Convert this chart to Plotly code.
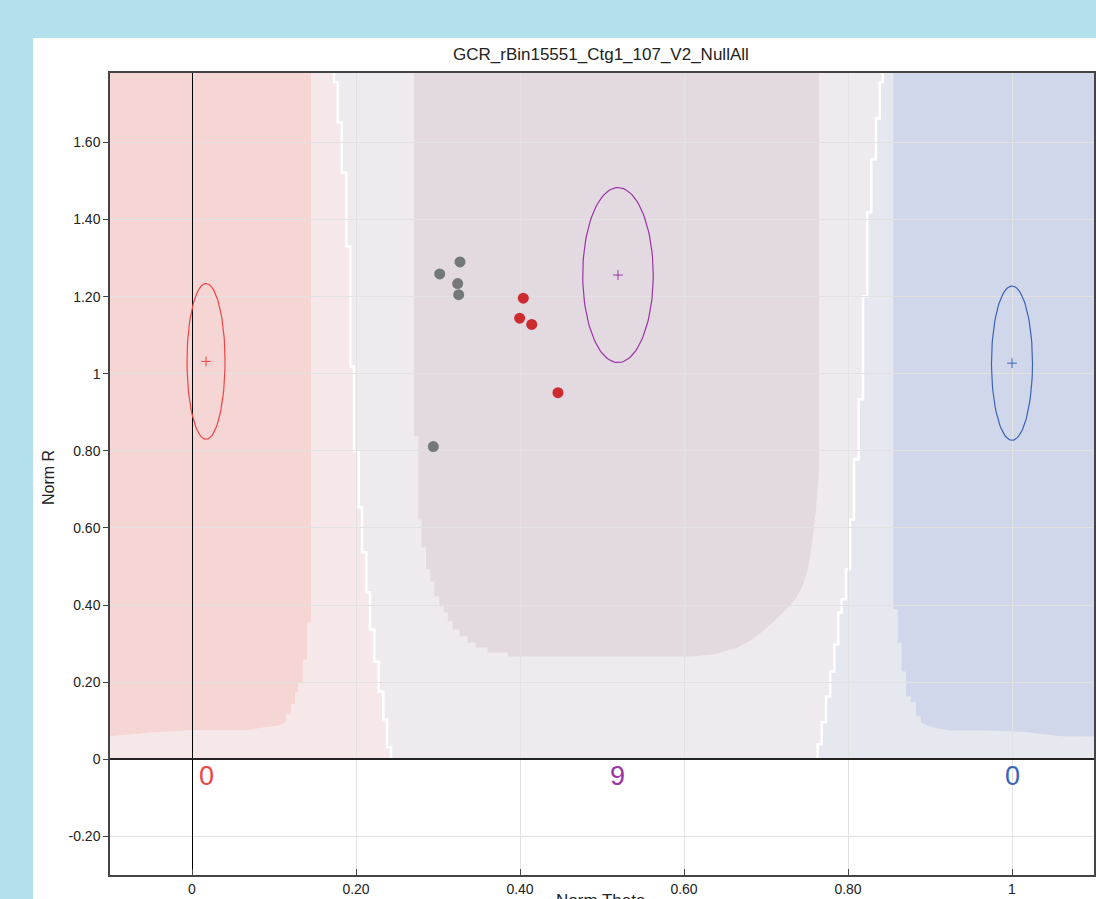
import numpy as np
import plotly.graph_objects as go

# ---- sample intensities (Norm Theta, Norm R) ----
gray_theta = [0.3268, 0.3021, 0.3240, 0.3252, 0.2943]
gray_r = [1.290, 1.259, 1.234, 1.205, 0.811]
red_theta = [0.4040, 0.3996, 0.4143, 0.4463]
red_r = [1.196, 1.144, 1.128, 0.951]

# ---- genotype clusters (AA, AB, BB) ----
cluster_theta = [0.0171, 0.5195, 1.0]
cluster_r = [1.032, 1.256, 1.0275]
cluster_sd_theta = [0.0232, 0.043, 0.025]
cluster_sd_r = [0.202, 0.227, 0.200]
cluster_counts = [0, 9, 0]
cluster_colors = ["#f04545", "#9b35a5", "#3b63b8"]

# ---- axis ticks ----
x_ticks = [0, 0.2, 0.4, 0.6, 0.8, 1.0]
x_ticklabels = ["0", "0.20", "0.40", "0.60", "0.80", "1"]
y_ticks = [-0.2, 0, 0.2, 0.4, 0.6, 0.8, 1.0, 1.2, 1.4, 1.6]
y_ticklabels = ["-0.20", "0", "0.20", "0.40", "0.60", "0.80", "1", "1.20", "1.40", "1.60"]

# ---- call-region boundaries (theta per R band, top to bottom) ----
left_line_r = [1.90, 1.756, 1.652, 1.522, 1.330, 1.019, 0.799, 0.654, 0.537,
               0.433, 0.337, 0.254, 0.176, 0.104, 0.031, 0.0]
left_line_theta = [0.1732, 0.1777, 0.1826, 0.1882, 0.1931, 0.1976, 0.2033, 0.2073,
                   0.2126, 0.2171, 0.2224, 0.2277, 0.2333, 0.2378, 0.2427]
right_line_r = [1.90, 1.756, 1.662, 1.556, 1.419, 1.201, 0.934, 0.778, 0.622, 0.493,
                0.415, 0.381, 0.298, 0.228, 0.163, 0.096, 0.039, 0.0]
right_line_theta = [0.8423, 0.8387, 0.8341, 0.8284, 0.8235, 0.8183, 0.8130, 0.8073,
                    0.8024, 0.7976, 0.7923, 0.7882, 0.7833, 0.7784, 0.7732, 0.7679, 0.7630]

aa_edge_r = [1.90, 0.355, 0.259, 0.200, 0.174, 0.143, 0.117, 0.096]
aa_edge_theta = [0.1451, 0.1402, 0.1350, 0.1293, 0.1256, 0.1207, 0.1146]
aa_floor_theta = [0.105, 0.088, 0.068, -0.001, -0.022, -0.046, -0.074, -0.10, -0.20]
aa_floor_r = [0.088, 0.083, 0.076, 0.076, 0.073, 0.070, 0.065, 0.060, 0.058]

bb_edge_r = [1.90, 0.389, 0.303, 0.228, 0.163, 0.148, 0.112, 0.096]
bb_edge_theta = [0.8553, 0.8606, 0.8654, 0.8707, 0.8768, 0.8829, 0.8890]
bb_floor_theta = [0.897, 0.9094, 0.9256, 0.966, 0.9988, 1.019, 1.039, 1.06, 1.20]
bb_floor_r = [0.088, 0.080, 0.075, 0.075, 0.073, 0.070, 0.065, 0.060, 0.057]

ab_left_r = [1.90, 0.838, 0.622, 0.550, 0.493, 0.462, 0.423, 0.397, 0.381, 0.358,
             0.337, 0.319, 0.303, 0.290, 0.277, 0.267]
ab_left_theta = [0.2707, 0.2760, 0.2800, 0.2854, 0.2906, 0.2955, 0.3016, 0.3070,
                 0.3120, 0.3180, 0.3260, 0.3360, 0.3460, 0.3606, 0.3850]
ab_right_theta = [0.6085, 0.6354, 0.6634, 0.6817, 0.6976, 0.7098, 0.7220, 0.7341,
                  0.7439, 0.7512, 0.7560, 0.7610, 0.7646, 0.7646]
ab_right_r = [0.267, 0.272, 0.288, 0.309, 0.335, 0.358, 0.384, 0.410, 0.446, 0.493,
              0.558, 0.648, 0.752, 1.90]


def steps(xs, ys):
    pts = []
    for i, x in enumerate(xs):
        pts.append((x, ys[i]))
        pts.append((x, ys[i + 1]))
    return pts


def to_path(pts, close=True):
    d = "M " + " L ".join(f"{x},{y}" for x, y in pts)
    return d + (" Z" if close else "")


def region(pts, color):
    return dict(type="path", xref="x", yref="y", path=to_path(pts),
                fillcolor=color, line=dict(width=0), layer="below")


shapes = [
    # white panel behind the chart
    dict(type="rect", xref="paper", yref="paper", x0=-0.0783, x1=1.05, y0=-0.08, y1=1.0436,
         fillcolor="white", line=dict(width=0), layer="below"),
    # middle (no-call) band
    dict(type="rect", xref="x", yref="y", x0=-0.2, x1=1.2, y0=0, y1=1.9,
         fillcolor="#efeaee", line=dict(width=0), layer="below"),
    region([(-0.2, 0), (-0.2, 1.9)] + steps(left_line_theta, left_line_r), "#f6e8e8"),
    region([(1.2, 0), (1.2, 1.9)] + steps(right_line_theta, right_line_r), "#e5e8ef"),
    region([(-0.2, 1.9)] + steps(aa_edge_theta, aa_edge_r) + list(zip(aa_floor_theta, aa_floor_r)),
           "#f6d5d5"),
    region([(1.2, 1.9)] + steps(bb_edge_theta, bb_edge_r) + list(zip(bb_floor_theta, bb_floor_r)),
           "#d1d7ea"),
    region(steps(ab_left_theta, ab_left_r) + list(zip(ab_right_theta, ab_right_r)), "#e3d9e1"),
    dict(type="path", xref="x", yref="y", path=to_path(steps(left_line_theta, left_line_r), False),
         line=dict(color="white", width=2.5), layer="below"),
    dict(type="path", xref="x", yref="y", path=to_path(steps(right_line_theta, right_line_r), False),
         line=dict(color="white", width=2.5), layer="below"),
]

fig = go.Figure()

# cluster ellipses and centres
t = np.linspace(0, 2 * np.pi, 121)
for cx, cy, sx, sy, col in zip(cluster_theta, cluster_r, cluster_sd_theta, cluster_sd_r, cluster_colors):
    fig.add_trace(go.Scatter(x=cx + sx * np.cos(t), y=cy + sy * np.sin(t), mode="lines",
                             line=dict(color=col, width=1.2), hoverinfo="skip"))
    fig.add_trace(go.Scatter(x=[cx], y=[cy], mode="markers",
                             marker=dict(symbol="cross-thin", size=7, line=dict(color=col, width=1))))

fig.add_trace(go.Scatter(x=gray_theta, y=gray_r, mode="markers",
                         marker=dict(color="#737979", size=11)))
fig.add_trace(go.Scatter(x=red_theta, y=red_r, mode="markers",
                         marker=dict(color="#cc2b30", size=11)))

annotations = [
    dict(text="GCR_rBin15551_Ctg1_107_V2_NullAll", xref="paper", yref="paper", x=0.4985, y=1.0225,
         showarrow=False, font=dict(size=17, color="#222"), xanchor="center", yanchor="middle"),
    dict(text="Norm R", xref="paper", yref="paper", x=-0.063, y=0.495, textangle=-90,
         showarrow=False, font=dict(size=16, color="#222"), xanchor="center", yanchor="middle"),
    dict(text="Norm Theta", xref="paper", yref="paper", x=0.4985, y=-0.017,
         showarrow=False, font=dict(size=17, color="#222"), xanchor="center", yanchor="top"),
]
for cx, n, col in zip(cluster_theta, cluster_counts, cluster_colors):
    annotations.append(dict(text=str(n), x=cx, y=-0.044, xref="x", yref="y", showarrow=False,
                            font=dict(size=27, color=col), xanchor="center", yanchor="middle"))

fig.update_layout(
    width=1096, height=899,
    margin=dict(l=110, r=2, t=73, b=24, autoexpand=False),
    paper_bgcolor="#b2e0ed", plot_bgcolor="white",
    showlegend=False,
    font=dict(family="Liberation Sans, Arial, sans-serif", color="#222", size=14),
    shapes=shapes, annotations=annotations,
    xaxis=dict(range=[-0.1, 1.1], tickvals=x_ticks, ticktext=x_ticklabels,
               ticks="inside", ticklen=6, tickcolor="#444", showgrid=True, gridcolor="#e2e2e2",
               zeroline=True, zerolinecolor="black", zerolinewidth=1,
               showline=True, linecolor="#444", linewidth=1.5, mirror=True, automargin=False),
    yaxis=dict(range=[-0.3, 1.78], tickvals=y_ticks, ticktext=y_ticklabels,
               ticks="outside", ticklen=5, tickcolor="#444", showgrid=True, gridcolor="#e2e2e2",
               zeroline=True, zerolinecolor="#222", zerolinewidth=1.5,
               showline=True, linecolor="#444", linewidth=1.5, mirror=True, automargin=False),
)

fig.write_html("out.html")
